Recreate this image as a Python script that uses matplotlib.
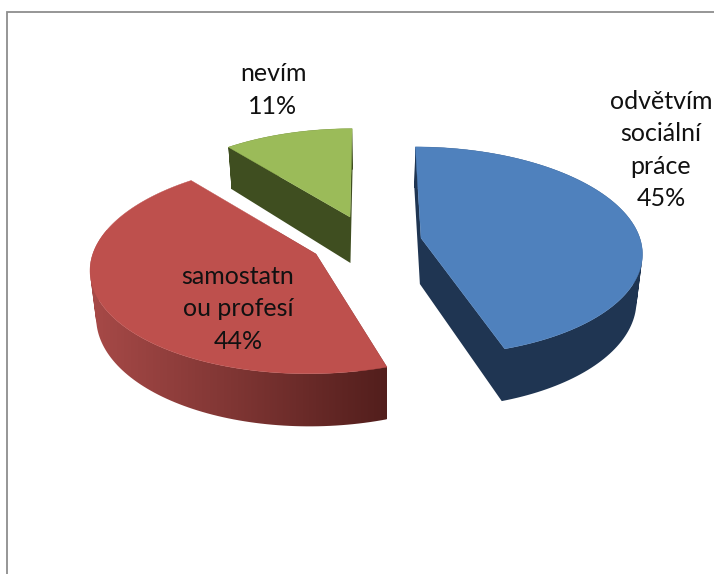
import numpy as np
import matplotlib
matplotlib.use('Agg')
import matplotlib.pyplot as plt
from matplotlib.colors import LinearSegmentedColormap
from matplotlib.path import Path
from matplotlib.patches import PathPatch

labels = ['odvětvím\nsociální\npráce', 'samostatn\nou profesí', 'nevím']
values = [45, 44, 11]
top_colors = ['#4F81BD', '#BE504D', '#9BBB59']
side_colors = ['#1F3552', None, '#3F4E20']
red_side = LinearSegmentedColormap.from_list('red_side', ['#A84A48', '#7E3533', '#521E1C'])

# apex of each exploded slice in pixels, and slice size
apex = [(421, 238), (316, 254), (350, 217)]
scale = [0.99, 1.01, 0.96]
label_pos = [(661, 150), (238, 309), (273, 90)]

RX, RY, PERSP, DEPTH = 221, 103.6, 0.126, 46
VANISH_X = 370  # x the sides of the pie lean towards


def project(theta, ax0, ay0, sc):
    # circle point seen in perspective, near side is bigger
    u, v = np.sin(theta), -np.cos(theta)
    w = 1 / (1 - PERSP * v)
    skew = (ax0 - VANISH_X) * PERSP / RY
    y = sc * RY * v * w
    x = sc * RX * u * w + skew * y
    return ax0 + x, ay0 + y, w


def bottom(x, y, w):
    return x + (VANISH_X - x) * 0.022, y + DEPTH * w


def swept_path(xs, ys, bx, by):
    # quads between top and bottom outline, all wound the same way so they add up
    verts, codes = [], []
    for j in range(len(xs) - 1):
        q = [(xs[j], ys[j]), (xs[j + 1], ys[j + 1]), (bx[j + 1], by[j + 1]), (bx[j], by[j])]
        area = sum(q[k][0] * q[(k + 1) % 4][1] - q[(k + 1) % 4][0] * q[k][1] for k in range(4))
        if area < 0:
            q = q[::-1]
        verts += q + [q[0]]
        codes += [Path.MOVETO, Path.LINETO, Path.LINETO, Path.LINETO, Path.CLOSEPOLY]
    return Path(verts, codes)


fig = plt.figure(figsize=(7.14, 5.74), dpi=100)
ax = fig.add_axes([0, 0, 1, 1])

# chart frame, runs off the picture right and bottom
ax.plot([7, 7, 714], [574, 12, 12], color='#8E8E8E', lw=1.3, solid_joinstyle='miter')

edges = np.cumsum([0] + values) / sum(values) * 2 * np.pi
z = 2
for i in [2, 0, 1]:
    ax0, ay0 = apex[i]
    th = np.linspace(edges[i], edges[i + 1], 120)
    arc_x, arc_y, arc_w = project(th, ax0, ay0, scale[i])
    # outline: apex, arc, back to apex
    xs = np.r_[ax0, arc_x, ax0]
    ys = np.r_[ay0, arc_y, ay0]
    ws = np.r_[1, arc_w, 1]
    bx, by = bottom(xs, ys, ws)
    sweep = swept_path(xs, ys, bx, by)
    if side_colors[i] is None:
        # side of the red slice darkens to the right
        side = PathPatch(sweep, facecolor='none', edgecolor='none', zorder=z)
        ax.add_patch(side)
        im = ax.imshow(np.linspace(0, 1, 256).reshape(1, -1), cmap=red_side, extent=(88, 388, 440, 230),
                       aspect='auto', zorder=z, interpolation='bilinear')
        im.set_clip_path(side)
    else:
        ax.add_patch(PathPatch(sweep, facecolor=side_colors[i], edgecolor='none', zorder=z))
    ax.fill(xs, ys, color=top_colors[i], lw=0.3, zorder=z + 1)
    z += 2

for lab, val, pos in zip(labels, values, label_pos):
    ax.text(pos[0], pos[1], lab + '\n' + str(val) + '%', ha='center', va='center',
            family='Lato', fontsize=18, color='#111111', linespacing=1.5, zorder=20)

ax.set_xlim(0, 714)
ax.set_ylim(574, 0)
ax.axis('off')

fig.savefig('out.png', dpi=100)
